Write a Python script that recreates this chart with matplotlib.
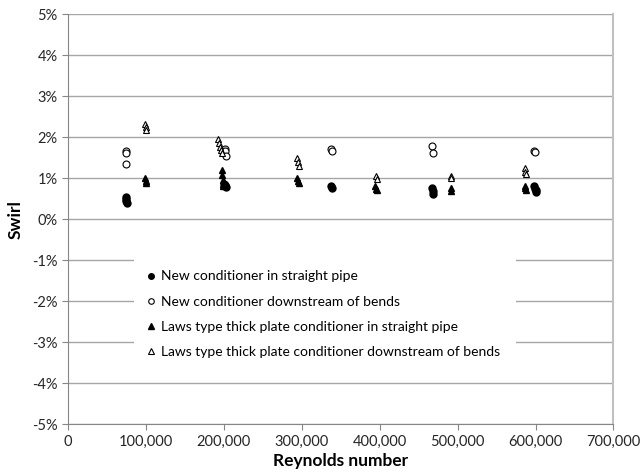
import matplotlib.pyplot as plt
import numpy as np
from matplotlib.ticker import FuncFormatter
from matplotlib.patches import Rectangle

plt.rcParams['font.family'] = ['Lato', 'DejaVu Sans']

# New conditioner in straight pipe
new_straight_re = [74000, 74500, 75000, 75500, 200000, 201000, 202000, 203000,
                   338000, 339000, 467000, 468000, 469000, 598000, 599000, 600000, 601000]
new_straight_sw = [0.55, 0.50, 0.45, 0.40, 0.85, 0.80, 0.82, 0.78,
                   0.80, 0.76, 0.75, 0.68, 0.62, 0.80, 0.74, 0.70, 0.65]

# New conditioner downstream of bends
new_bends_re = [74000, 74500, 75000, 201000, 202000, 203000, 338000, 339000,
                467000, 468000, 598000, 599000]
new_bends_sw = [1.65, 1.60, 1.35, 1.72, 1.65, 1.55, 1.70, 1.65,
                1.78, 1.62, 1.65, 1.63]

# Laws type thick plate conditioner in straight pipe
laws_straight_re = [99000, 99500, 100000, 197000, 198000, 198500, 199000, 199500,
                    294000, 295000, 296000, 394000, 395000, 396000,
                    491000, 492000, 586000, 587000, 588000]
laws_straight_sw = [1.00, 0.92, 0.88, 1.20, 1.08, 0.95, 0.85, 0.80,
                    1.00, 0.92, 0.87, 0.80, 0.74, 0.70,
                    0.75, 0.68, 0.80, 0.75, 0.72]

# Laws type thick plate conditioner downstream of bends
laws_bends_re = [99000, 99500, 100000, 193000, 194000, 195000, 196000, 197000,
                 294000, 295000, 296000, 395000, 396000, 491000, 492000,
                 586000, 587000, 588000]
laws_bends_sw = [2.32, 2.25, 2.18, 1.95, 1.85, 1.75, 1.68, 1.62,
                 1.48, 1.40, 1.30, 1.05, 0.97, 1.05, 1.00,
                 1.25, 1.15, 1.10]

fig = plt.figure(figsize=(6.44, 4.75), dpi=100)
ax = fig.add_axes([0.1056, 0.107, 0.847, 0.8635])

ms = 5
ax.plot(new_straight_re, new_straight_sw, 'o', color='black', ms=ms,
        label='New conditioner in straight pipe', zorder=3)
ax.plot(new_bends_re, new_bends_sw, 'o', mfc='white', mec='black', mew=0.8, ms=ms,
        label='New conditioner downstream of bends', zorder=3)
ax.plot(laws_straight_re, laws_straight_sw, '^', color='black', ms=ms,
        label='Laws type thick plate conditioner in straight pipe', zorder=3)
ax.plot(laws_bends_re, laws_bends_sw, '^', mfc='white', mec='black', mew=0.8, ms=ms,
        label='Laws type thick plate conditioner downstream of bends', zorder=3)

ax.set_xlim(0, 700000)
ax.set_ylim(-5, 5)
ax.set_xticks(np.arange(0, 700001, 100000))
ax.set_yticks(np.arange(-5, 6, 1))
ax.xaxis.set_major_formatter(FuncFormatter(lambda v, p: '{:,.0f}'.format(v)))
ax.yaxis.set_major_formatter(FuncFormatter(lambda v, p: '{:.0f}%'.format(v)))
ax.grid(axis='y', color='#a6a6a6', lw=1)
ax.set_axisbelow(True)
ax.spines['top'].set_visible(False)
ax.spines['right'].set_color('#c0c0c0')
ax.spines['right'].set_linewidth(1.5)
ax.spines['left'].set_color('#868686')
ax.spines['bottom'].set_color('#868686')
ax.tick_params(direction='out', length=4, color='#868686', labelsize=10.5, colors='#262626')
ax.tick_params(axis='x', pad=4)

ax.set_xlabel('Reynolds number', fontsize=12.5, fontweight='bold', labelpad=3)
ax.set_ylabel('Swirl', fontsize=12.5, fontweight='bold', labelpad=6)

# white legend area hiding the gridlines behind it
ax.add_patch(Rectangle((0.1215, 0.13), 0.7, 0.29, transform=ax.transAxes,
                       facecolor='white', edgecolor='none', zorder=1))

leg = ax.legend(loc='upper left', bbox_to_anchor=(0.117, 0.412), frameon=False,
                fontsize=10, markerscale=0.8,
                handlelength=0.6, handletextpad=0.4, labelspacing=0.95,
                borderpad=0.6)

fig.savefig('out.png', dpi=100)
